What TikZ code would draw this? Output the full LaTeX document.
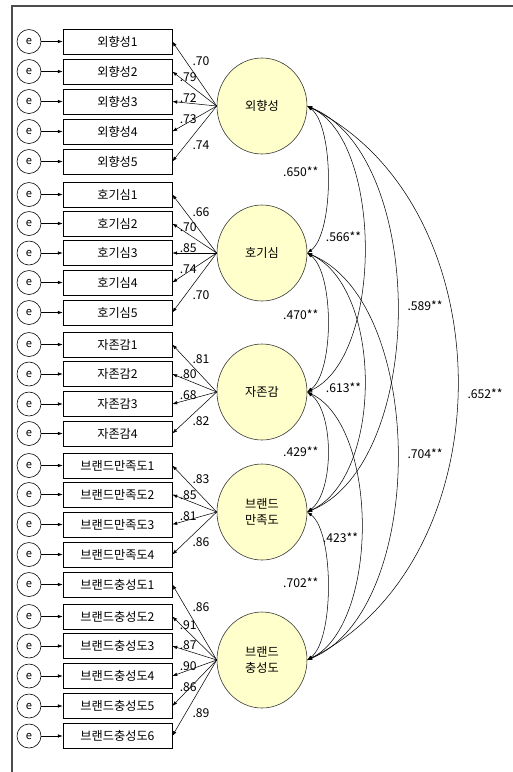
\documentclass[tikz,border=0pt]{standalone}
\usepackage{fontspec}
\newfontfamily\kor{Noto Sans CJK KR}
\usetikzlibrary{arrows.meta,shapes.geometric}
\definecolor{latfill}{RGB}{255,255,204}
\tikzset{
	obs/.style={draw,rectangle,minimum width=3.27cm,minimum height=0.76cm,inner sep=0pt,line width=0.5pt},
	err/.style={draw,circle,minimum size=0.72cm,inner sep=0pt,line width=0.5pt,font=\kor\fontsize{9.5}{10}\selectfont},
	lat/.style={draw=black!80,fill=latfill,ellipse,minimum width=2.7cm,minimum height=2.88cm,inner sep=0pt,align=center,line width=0.5pt},
	arr/.style={-{Latex[length=4.2pt,width=3pt]},line width=0.45pt},
	cov/.style={{Latex[length=4.2pt,width=3pt]}-{Latex[length=4.2pt,width=3pt]},line width=0.45pt},
	lbl/.style={inner sep=0pt}
}
\begin{document}
\begin{tikzpicture}[x=0.03cm,y=-0.03cm,font=\kor\fontsize{10.4}{13.5}\selectfont]
	\useasboundingbox (0,0) rectangle (513,772);
	\draw[line width=0.9pt,black!70] (12,772) -- (12,6) -- (513,6);
	\foreach \n/\t/\y in {x11/외향성1/41.5,x12/외향성2/71.5,x13/외향성3/101.5,x14/외향성4/131.5,x15/외향성5/161.5,
			x21/호기심1/194.5,x22/호기심2/223.5,x23/호기심3/253,x24/호기심4/282.5,x25/호기심5/312.5,
			x31/자존감1/344.5,x32/자존감2/374,x33/자존감3/404,x34/자존감4/433.5,
			x41/브랜드만족도1/465.5,x42/브랜드만족도2/494.5,x43/브랜드만족도3/524.5,x44/브랜드만족도4/554.5,
			x51/브랜드충성도1/584.5,x52/브랜드충성도2/616.5,x53/브랜드충성도3/646,x54/브랜드충성도4/676,x55/브랜드충성도5/706,x56/브랜드충성도6/736}{
		\node[obs] (\n) at (117.5,\y) {\t};
		\node[err] (e\n) at (29,\y) {e};
		\draw[arr] (e\n) -- (\n);
	}
	\node[lat] (f1) at (262,106) {외향성};
	\node[lat] (f2) at (262,253) {호기심};
	\node[lat] (f3) at (262,392) {자존감};
	\node[lat] (f4) at (262,512) {브랜드\\만족도};
	\node[lat] (f5) at (262,660) {브랜드\\충성도};
	\foreach \n/\v/\a/\s in {x11/.70/west/2mm,x12/.79/south/0.8mm,x13/.72/south/0.8mm,x14/.73/south/0.8mm,x15/.74/west/2mm}
		\draw[arr] (f1.west) -- (\n.east) node[lbl,pos=0.7,anchor=\a,xshift=\s] {\v};
	\foreach \n/\v/\a/\s in {x21/.66/west/2mm,x22/.70/south/0.8mm,x23/.85/south/0.8mm,x24/.74/south/0.8mm,x25/.70/west/2mm}
		\draw[arr] (f2.west) -- (\n.east) node[lbl,pos=0.7,anchor=\a,xshift=\s] {\v};
	\foreach \n/\v/\a/\s in {x31/.81/west/2mm,x32/.80/south/0.8mm,x33/.68/south/0.8mm,x34/.82/west/2mm}
		\draw[arr] (f3.west) -- (\n.east) node[lbl,pos=0.7,anchor=\a,xshift=\s] {\v};
	\foreach \n/\v/\a/\s in {x41/.83/west/2mm,x42/.85/south/0.8mm,x43/.81/south/0.8mm,x44/.86/west/2mm}
		\draw[arr] (f4.west) -- (\n.east) node[lbl,pos=0.7,anchor=\a,xshift=\s] {\v};
	\foreach \n/\v/\a/\s in {x51/.86/west/2mm,x52/.91/south/0.8mm,x53/.87/south/0.8mm,x54/.90/south/0.8mm,x55/.86/south/0.8mm,x56/.89/west/2mm}
		\draw[arr] (f5.west) -- (\n.east) node[lbl,pos=0.7,anchor=\a,xshift=\s] {\v};
	\draw[cov] (f1.east) .. controls +(27,20) and +(27,-20) .. (f2.east) node[lbl,pos=0.5,anchor=east,xshift=-2.7mm,yshift=2.2mm] {.650**};
	\draw[cov] (f2.east) .. controls +(27,20) and +(27,-20) .. (f3.east) node[lbl,pos=0.5,anchor=east,xshift=-2.7mm,yshift=2.2mm] {.470**};
	\draw[cov] (f3.east) .. controls +(27,20) and +(27,-20) .. (f4.east) node[lbl,pos=0.5,anchor=east,xshift=-2.7mm] {.429**};
	\draw[cov] (f4.east) .. controls +(27,20) and +(27,-20) .. (f5.east) node[lbl,pos=0.5,anchor=east,xshift=-2.7mm,yshift=0.9mm] {.702**};
	\draw[cov] (f1.east) .. controls +(76,35) and +(76,-35) .. (f3.east) node[lbl,pos=0.5,anchor=east,xshift=-0.9mm,yshift=3.6mm] {.566**};
	\draw[cov] (f2.east) .. controls +(76,35) and +(76,-35) .. (f4.east) node[lbl,pos=0.5,anchor=east,xshift=-0.9mm,yshift=-1.6mm] {.613**};
	\draw[cov] (f3.east) .. controls +(72,35) and +(72,-35) .. (f5.east) node[lbl,pos=0.5,anchor=east,xshift=-0.9mm,yshift=-3.6mm] {.423**};
	\draw[cov] (f1.east) .. controls +(120,50) and +(120,-50) .. (f4.east) node[lbl,pos=0.5,anchor=west,xshift=3mm,yshift=0.9mm] {.589**};
	\draw[cov] (f2.east) .. controls +(120,50) and +(120,-50) .. (f5.east) node[lbl,pos=0.5,anchor=west,xshift=3mm,yshift=0.9mm] {.704**};
	\draw[cov] (f1.east) .. controls +(200,100) and +(200,-100) .. (f5.east) node[lbl,pos=0.5,anchor=west,xshift=3mm,yshift=-3.3mm] {.652**};
\end{tikzpicture}
\end{document}
